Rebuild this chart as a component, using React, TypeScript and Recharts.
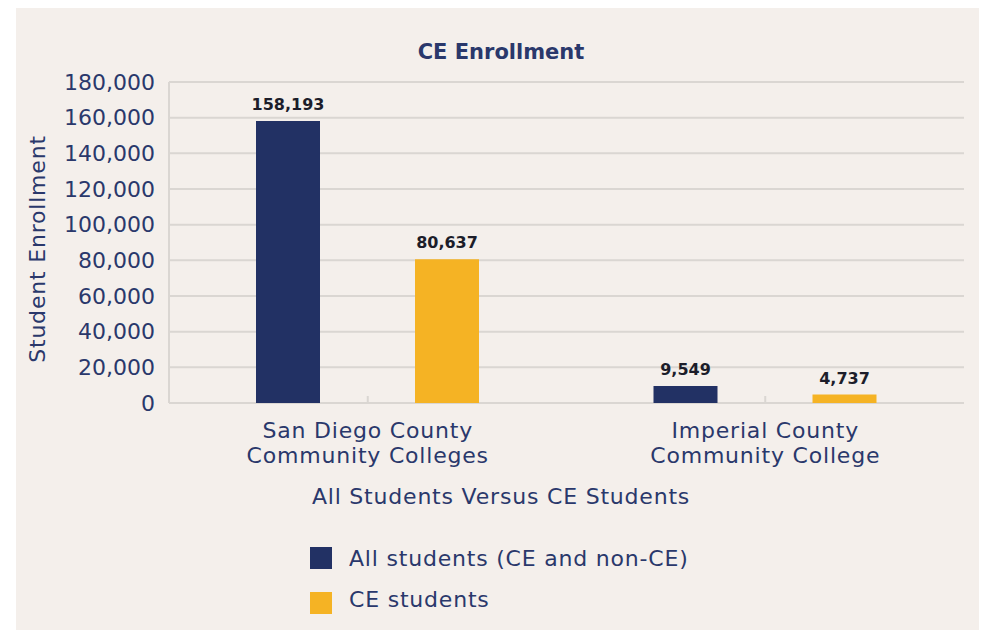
import { BarChart, Bar, XAxis, YAxis, CartesianGrid, LabelList } from 'recharts';

const CATEGORIES = ['San Diego County\nCommunity Colleges', 'Imperial County\nCommunity College'];
const ALL_STUDENTS = [158193, 9549];
const CE_STUDENTS = [80637, 4737];
const Y_TICKS = [0, 20000, 40000, 60000, 80000, 100000, 120000, 140000, 160000, 180000];

const SERIES = [
  { key: 'all', name: 'All students (CE and non-CE)', color: '#223164' },
  { key: 'ce', name: 'CE students', color: '#f5b324' },
];

const chartData = CATEGORIES.map((name, i) => ({
  name,
  all: ALL_STUDENTS[i],
  ce: CE_STUDENTS[i],
}));

const BG = '#f4efeb';
const TEXT = '#2a386b';
const GRID = '#dad6d2';
const FONT = '"DejaVu Sans", sans-serif';
const SPACING = 0.8;

const fmt = (v: number) => v.toLocaleString('en-US');

const CategoryTick = ({ x, y, payload }: any) => {
  const lines = String(payload.value).split('\n');
  return (
    <g>
      <line x1={x} x2={x} y1={y - 7} y2={y} stroke={GRID} strokeWidth={2} />
      <text
        x={x}
        y={y + 35}
        textAnchor="middle"
        fill={TEXT}
        fontSize={22}
        fontFamily={FONT}
        letterSpacing={SPACING}
      >
        {lines.map((l, i) => (
          <tspan key={i} x={x} dy={i === 0 ? 0 : 25}>{l}</tspan>
        ))}
      </text>
    </g>
  );
};

const YLabel = () => (
  <text
    x={21}
    y={241}
    transform="rotate(-90, 21, 241)"
    textAnchor="middle"
    dominantBaseline="central"
    fill={TEXT}
    fontSize={22}
    fontFamily={FONT}
    letterSpacing={SPACING}
  >
    Student Enrollment
  </text>
);

export default function App() {
  return (
    <div style={{ position: 'absolute', left: 16, top: 8, width: 963, height: 622, background: BG }}>
      <BarChart
        width={963}
        height={622}
        data={chartData}
        margin={{ top: 74, right: 15, left: 0, bottom: 0 }}
        barSize={64}
        barGap={95}
      >
        <CartesianGrid vertical={false} stroke={GRID} strokeWidth={2} />
        <XAxis
          dataKey="name"
          height={227}
          axisLine={false}
          tickLine={false}
          tickSize={0}
          tickMargin={0}
          interval={0}
          tick={<CategoryTick />}
        />
        <YAxis
          width={153}
          domain={[0, 180000]}
          ticks={Y_TICKS}
          interval={0}
          tickFormatter={fmt}
          axisLine={{ stroke: GRID, strokeWidth: 2 }}
          tickLine={false}
          tickSize={0}
          tickMargin={14}
          tick={{ fill: TEXT, fontSize: 22, fontFamily: FONT }}
          label={<YLabel />}
        />
        {SERIES.map(s => (
          <Bar key={s.key} dataKey={s.key} name={s.name} fill={s.color} isAnimationActive={false}>
            <LabelList
              dataKey={s.key}
              position="top"
              offset={11}
              formatter={(v: any) => fmt(Number(v))}
              fill="#1c1d2a"
              fontSize={16}
              fontWeight="bold"
              fontFamily={FONT}
            />
          </Bar>
        ))}
      </BarChart>
      <svg width={963} height={622} style={{ position: 'absolute', left: 0, top: 0, pointerEvents: 'none' }}>
        <text x={485} y={51} textAnchor="middle" fill={TEXT} fontSize={21} fontWeight="bold" fontFamily={FONT}>
          CE Enrollment
        </text>
        <text
          x={485}
          y={496}
          textAnchor="middle"
          fill={TEXT}
          fontSize={22}
          fontFamily={FONT}
          letterSpacing={SPACING}
        >
          All Students Versus CE Students
        </text>
        {SERIES.map((s, i) => (
          <g key={s.key}>
            <rect x={294} y={539 + i * 45} width={22} height={22} fill={s.color} />
            <text x={333} y={558 + i * 41} fill={TEXT} fontSize={22} fontFamily={FONT} letterSpacing={SPACING}>
              {s.name}
            </text>
          </g>
        ))}
      </svg>
    </div>
  );
}
